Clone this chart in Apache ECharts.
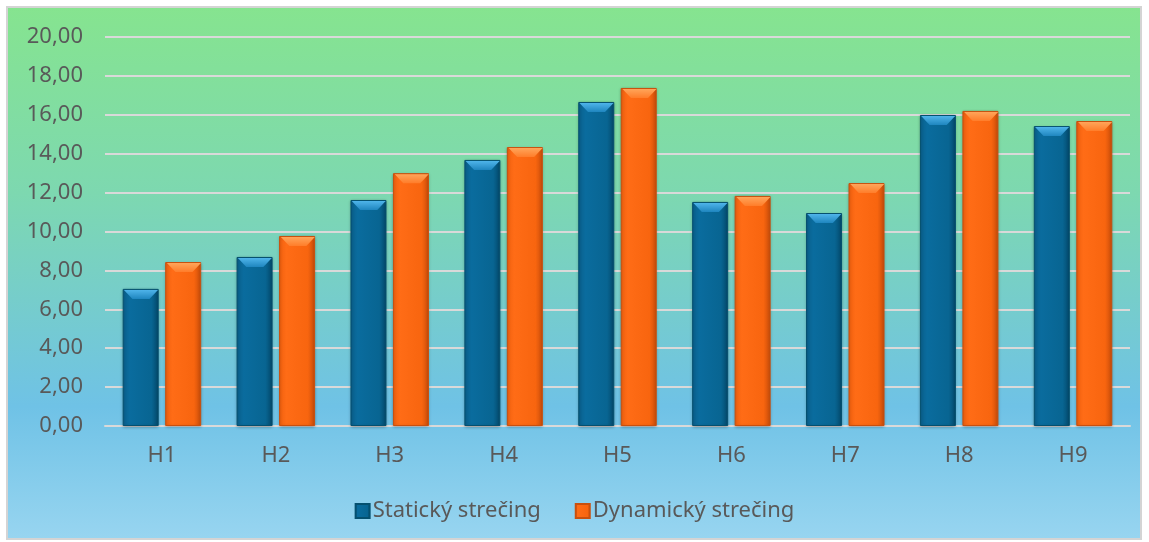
<!DOCTYPE html>
<html>
<head>
<meta charset="utf-8">
<script src="https://cdn.jsdelivr.net/npm/echarts@6/dist/echarts.min.js"></script>
<style>
html,body{margin:0;padding:0;background:#ffffff;}
#main{width:1149px;height:542px;}
</style>
</head>
<body>
<div id="main"></div>
<script>
const categories = ['H1','H2','H3','H4','H5','H6','H7','H8','H9'];
const seriesNames = ['Statický strečing','Dynamický strečing'];
const staticValues = [7.05, 8.69, 11.62, 13.68, 16.66, 11.52, 10.95, 15.99, 15.42];
const dynamicValues = [8.43, 9.77, 13.00, 14.34, 17.38, 11.83, 12.49, 16.20, 15.68];
const yTicks = {min: 0, max: 20, interval: 2};

const G = echarts.graphic.LinearGradient;
const font = '"Noto Sans", "DejaVu Sans", sans-serif';
const capPath = 'path://M0,0 L36,0 L27,10 L9,10 Z';

const blueFill = new G(0, 0, 1, 0, [
  {offset: 0, color: '#0a5f8b'},
  {offset: 0.2, color: '#0a6c9e'},
  {offset: 0.8, color: '#086592'},
  {offset: 1, color: '#04496b'}
]);
const orangeFill = new G(0, 0, 1, 0, [
  {offset: 0, color: '#f0600f'},
  {offset: 0.2, color: '#ff6c16'},
  {offset: 0.8, color: '#f8650f'},
  {offset: 1, color: '#c94d0a'}
]);

const chart = echarts.init(document.getElementById('main'));
chart.setOption({
  animation: false,
  backgroundColor: '#ffffff',
  textStyle: {fontFamily: font},
  graphic: [{
    type: 'rect', z: -10, silent: true,
    shape: {x: 7, y: 7, width: 1134, height: 532},
    style: {
      fill: new G(0, 0, 0, 1, [
        {offset: 0, color: '#86e48f'},
        {offset: 0.35, color: '#7dd8b0'},
        {offset: 0.75, color: '#6fc2e6'},
        {offset: 1, color: '#98d5f0'}
      ]),
      stroke: '#d4d4d4', lineWidth: 2
    }
  }],
  grid: {left: 105, right: 19, top: 37, bottom: 116},
  legend: {
    bottom: 15, left: 'center',
    itemWidth: 14, itemHeight: 14, itemGap: 34,
    icon: 'rect',
    textStyle: {fontSize: 22, color: '#595959', fontFamily: font, padding: [0,0,0,-2]},
    data: seriesNames
  },
  xAxis: {
    type: 'category', data: categories,
    axisLine: {lineStyle: {color: '#d9d9d9', width: 2}},
    axisTick: {show: false},
    axisLabel: {color: '#595959', fontSize: 22, margin: 19, fontFamily: font}
  },
  yAxis: {
    type: 'value', min: yTicks.min, max: yTicks.max, interval: yTicks.interval,
    axisLine: {show: false}, axisTick: {show: false},
    splitLine: {lineStyle: {color: '#d9d9d9', width: 2}},
    axisLabel: {
      color: '#595959', fontSize: 22, margin: 22, fontFamily: font,
      formatter: v => v.toFixed(2).replace('.', ',')
    }
  },
  series: [
    {
      name: seriesNames[0], type: 'bar', data: staticValues,
      barWidth: 36, barGap: '18%',
      itemStyle: {
        color: blueFill,
        borderColor: '#05506f', borderWidth: 1,
        shadowColor: 'rgba(0,0,0,0.25)', shadowBlur: 3, shadowOffsetY: 1
      }
    },
    {
      name: seriesNames[1], type: 'bar', data: dynamicValues,
      barWidth: 36,
      itemStyle: {
        color: orangeFill,
        borderColor: '#c9500e', borderWidth: 1,
        shadowColor: 'rgba(0,0,0,0.25)', shadowBlur: 3, shadowOffsetY: 1
      }
    },
    {
      name: seriesNames[0] + ' cap', type: 'pictorialBar', data: staticValues,
      barWidth: 36, silent: true, z: 5,
      symbol: capPath, symbolSize: [34, 9], symbolPosition: 'end', symbolOffset: [-21, 1],
      itemStyle: {color: new G(0, 0, 0, 1, [{offset: 0, color: '#4fb4ea'}, {offset: 1, color: '#1f86bf'}])}
    },
    {
      name: seriesNames[1] + ' cap', type: 'pictorialBar', data: dynamicValues,
      barWidth: 36, silent: true, z: 5,
      symbol: capPath, symbolSize: [34, 9], symbolPosition: 'end', symbolOffset: [22, 1],
      itemStyle: {color: new G(0, 0, 0, 1, [{offset: 0, color: '#ffa55a'}, {offset: 1, color: '#ff7d2a'}])}
    }
  ]
});
</script>
</body>
</html>
